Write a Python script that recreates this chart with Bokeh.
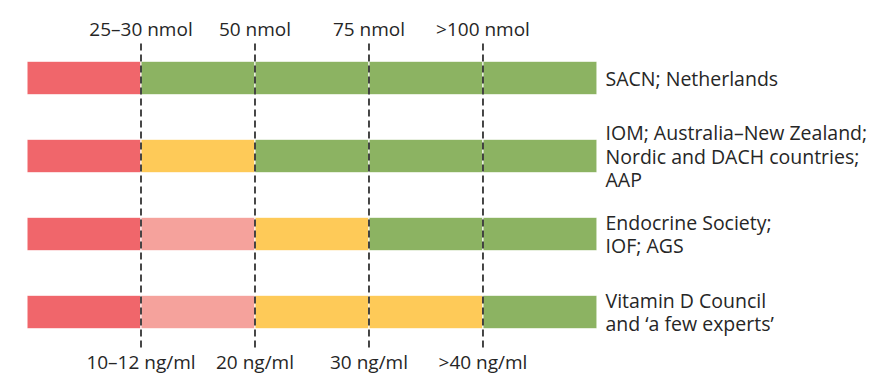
from bokeh.plotting import figure
from bokeh.models import ColumnDataSource, Range1d
from bokeh.core.properties import value
from bokeh.embed import file_html
from bokeh.resources import INLINE

# ---- data ----
nmol_labels = ["25\u201330 nmol", "50 nmol", "75 nmol", ">100 nmol"]
ngml_labels = ["10\u201312 ng/ml", "20 ng/ml", "30 ng/ml", ">40 ng/ml"]
groups = [
    "SACN; Netherlands",
    "IOM; Australia\u2013New Zealand;\nNordic and DACH countries;\nAAP",
    "Endocrine Society;\nIOF; AGS",
    "Vitamin D Council\nand \u2018a few experts\u2019",
]
# status of each of the five concentration bands, per group
band_status = [
    ["deficient", "sufficient", "sufficient", "sufficient", "sufficient"],
    ["deficient", "insufficient", "sufficient", "sufficient", "sufficient"],
    ["deficient", "inadequate", "insufficient", "sufficient", "sufficient"],
    ["deficient", "inadequate", "insufficient", "insufficient", "sufficient"],
]

# ---- styles ----
palette = {
    "deficient": "#F0666B",
    "inadequate": "#F5A29C",
    "insufficient": "#FECA58",
    "sufficient": "#8CB362",
}
FONT = "Open Sans"
TEXT_COLOR = "#262626"

# build tables
left, right, yy, col = [], [], [], []
for r, statuses in enumerate(band_status):
    for b, s in enumerate(statuses):
        left.append(b)
        right.append(b + 1)
        yy.append(r)
        col.append(palette[s])
bars = ColumnDataSource(dict(left=left, right=right, y=yy, color=col))

thr_x = list(range(1, len(nmol_labels) + 1))

p = figure(width=872, height=380,
           x_range=Range1d(-0.2325, 7.417),
           y_range=Range1d(3.878, -0.9936),
           toolbar_location=None, output_backend="svg",
           min_border=0, outline_line_color=None)
p.axis.visible = False
p.grid.visible = False
p.background_fill_color = "white"
p.border_fill_color = "white"

p.hbar(y="y", left="left", right="right", height=0.43, fill_color="color",
       line_color="white", line_width=1, source=bars)

p.segment(x0=thr_x, x1=thr_x, y0=[-0.442] * 4, y1=[3.48] * 4,
          line_color="#333333", line_width=1.8, line_dash="7 4")

p.text(x=thr_x, y=[-0.622] * 4, text=nmol_labels, text_font=value(FONT),
       text_font_size="19px", text_align="center", text_baseline="middle",
       text_color=TEXT_COLOR)
p.text(x=thr_x, y=[3.64] * 4, text=ngml_labels, text_font=value(FONT),
       text_font_size="19px", text_align="center", text_baseline="middle",
       text_color=TEXT_COLOR)

p.text(x=[5.075] * len(groups), y=list(range(len(groups))), text=groups,
       text_font=value(FONT), text_font_size="19.5px", text_align="left",
       text_baseline="middle", text_line_height=0.86, text_color=TEXT_COLOR)

open("out.html", "w").write(file_html(p, INLINE))
